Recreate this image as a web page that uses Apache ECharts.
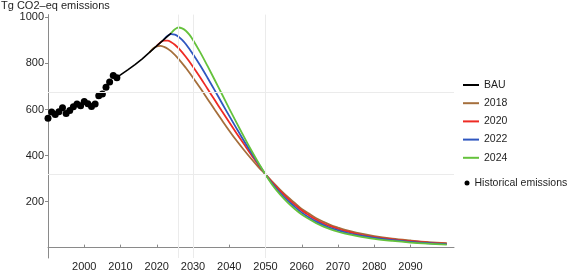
<!DOCTYPE html>
<html>
<head>
<meta charset="utf-8">
<script src="https://cdn.jsdelivr.net/npm/echarts@6/dist/echarts.min.js"></script>
<style>
  html, body { margin: 0; padding: 0; background: #fff; }
  #chart { width: 569px; height: 272px; }
</style>
</head>
<body>
<div id="chart"></div>
<script>
// historical points, 1990-2009
const histYears = [1990, 1991, 1992, 1993, 1994, 1995, 1996, 1997, 1998, 1999,
  2000, 2001, 2002, 2003, 2004, 2005, 2006, 2007, 2008, 2009]
const histValues = [562, 589, 578, 590, 607, 582, 595, 612, 624, 616,
  635, 625, 613, 624, 660, 667, 696, 719, 748, 738]

// business as usual
const bauYears = [2009, 2010, 2012, 2014, 2016, 2018, 2020, 2022, 2024]
const bauValues = [740, 750, 772, 795, 820, 848, 876, 904, 932]

const tailYears = [2052, 2054, 2056, 2058, 2060, 2062, 2064, 2066, 2068, 2070, 2072, 2075, 2080, 2085, 2090, 2095, 2100]

// scenario 2018
const years2018 = [2018, 2019, 2020, 2021, 2022, 2023, 2024, 2026, 2028, 2030, 2032, 2034, 2036, 2038, 2040, 2042, 2044, 2046, 2048, 2050].concat(tailYears)
const values2018 = [848, 865, 874, 876, 872, 864, 852, 820, 781, 738, 693, 646, 599, 553, 508, 465, 425, 387, 351, 318,
  284, 252, 222, 195, 168, 148, 128, 112, 98, 87, 77, 65, 50, 39, 31, 24, 19]

// scenario 2020
const years2020 = [2020, 2021, 2022, 2023, 2024, 2025, 2026, 2028, 2030, 2032, 2034, 2036, 2038, 2040, 2042, 2044, 2046, 2048, 2050].concat(tailYears)
const values2020 = [876, 891, 899, 899, 892, 881, 866, 829, 786, 739, 690, 641, 592, 544, 497, 451, 405, 361, 318,
  280, 246, 215, 187, 161, 140, 121, 105, 92, 81, 72, 60, 46, 36, 28, 22, 17]

// scenario 2022
const years2022 = [2022, 2023, 2024, 2025, 2026, 2027, 2028, 2030, 2032, 2034, 2036, 2038, 2040, 2042, 2044, 2046, 2048, 2050].concat(tailYears)
const values2022 = [904, 920, 927, 925, 916, 902, 884, 840, 791, 738, 683, 627, 572, 518, 465, 414, 365, 318,
  275, 238, 206, 178, 152, 131, 113, 98, 85, 75, 66, 55, 42, 33, 25, 19, 15]

// scenario 2024
const years2024 = [2024, 2025, 2026, 2027, 2028, 2029, 2030, 2032, 2034, 2036, 2038, 2040, 2042, 2044, 2046, 2048, 2050].concat(tailYears)
const values2024 = [932, 948, 956, 952, 942, 925, 902, 848, 789, 728, 666, 604, 543, 483, 425, 370, 318,
  270, 231, 198, 169, 144, 124, 106, 91, 79, 69, 61, 51, 38, 29, 22, 17, 13]

const xTicks = [2000, 2010, 2020, 2030, 2040, 2050, 2060, 2070, 2080, 2090]
const yTicks = [200, 400, 600, 800, 1000]
const gridX = [2026, 2030, 2050]
const gridY = [675, 320]

function pairs(xs, ys) {
  return xs.map((x, i) => [x, ys[i]])
}

const font = 'Liberation Sans, Arial, sans-serif'
const axisColor = '#8a8a8a'
const labelColor = '#1e1e1e'

function scenario(name, color, xs, ys) {
  return {
    name: name,
    type: 'line',
    data: pairs(xs, ys),
    symbol: 'none',
    smooth: 0.35,
    lineStyle: { color: color, width: 1.8 },
    itemStyle: { color: color },
    z: 3
  }
}

const chart = echarts.init(document.getElementById('chart'), null, { renderer: 'canvas' })
chart.setOption({
  animation: false,
  textStyle: { fontFamily: font },
  title: {
    text: 'Tg CO2\u2013eq emissions',
    left: 1,
    top: 0,
    padding: 0,
    textStyle: { fontSize: 11, fontWeight: 'normal', color: labelColor, fontFamily: font }
  },
  legend: [
    {
      data: ['BAU', '2018', '2020', '2022', '2024'],
      orient: 'vertical',
      icon: 'rect',
      left: 463,
      top: 78.5,
      padding: 0,
      itemWidth: 16,
      itemHeight: 2,
      itemGap: 5.2,
      textStyle: { fontSize: 10.5, color: labelColor, fontFamily: font, lineHeight: 13 }
    },
    {
      data: [{ name: 'Historical emissions', icon: 'circle' }],
      left: 464.5,
      top: 176.5,
      padding: 0,
      itemWidth: 5,
      itemHeight: 5,
      textStyle: { fontSize: 10.5, color: labelColor, fontFamily: font, lineHeight: 13 }
    }
  ],
  grid: { left: 48, right: 115, top: 14.6, bottom: 2.1 },
  xAxis: {
    type: 'value',
    min: 1990,
    max: 2102,
    axisLine: { onZero: true, lineStyle: { color: axisColor, width: 1 } },
    axisTick: { inside: true, length: 3, customValues: xTicks, lineStyle: { color: axisColor } },
    axisLabel: {
      customValues: xTicks, margin: 3, fontSize: 11, color: labelColor, fontFamily: font,
      formatter: v => String(v)
    },
    splitLine: { show: false }
  },
  yAxis: {
    type: 'value',
    min: -45,
    max: 1012,
    axisLine: { show: true, lineStyle: { color: axisColor, width: 1 } },
    axisTick: { show: true, length: 3, customValues: yTicks, lineStyle: { color: axisColor } },
    axisLabel: {
      customValues: yTicks, margin: 4, fontSize: 11, color: labelColor, fontFamily: font,
      formatter: v => String(v)
    },
    splitLine: { show: false }
  },
  series: [
    {
      name: 'Historical emissions',
      type: 'scatter',
      data: pairs(histYears, histValues),
      symbol: 'circle',
      symbolSize: 7,
      itemStyle: { color: '#000', opacity: 1 },
      z: 4,
      markLine: {
        silent: true,
        symbol: 'none',
        label: { show: false },
        lineStyle: { color: '#ebebeb', width: 1, type: 'solid' },
        data: gridX.map(v => ({ xAxis: v })).concat(gridY.map(v => ({ yAxis: v })))
      }
    },
    scenario('2018', '#a56f3c', years2018, values2018),
    scenario('2020', '#ee2b24', years2020, values2020),
    scenario('2022', '#2f57c0', years2022, values2022),
    scenario('2024', '#65c23c', years2024, values2024),
    {
      name: 'BAU',
      type: 'line',
      data: pairs(bauYears, bauValues),
      symbol: 'none',
      lineStyle: { color: '#000', width: 1.6 },
      itemStyle: { color: '#000' },
      z: 3
    }
  ]
})
</script>
</body>
</html>
